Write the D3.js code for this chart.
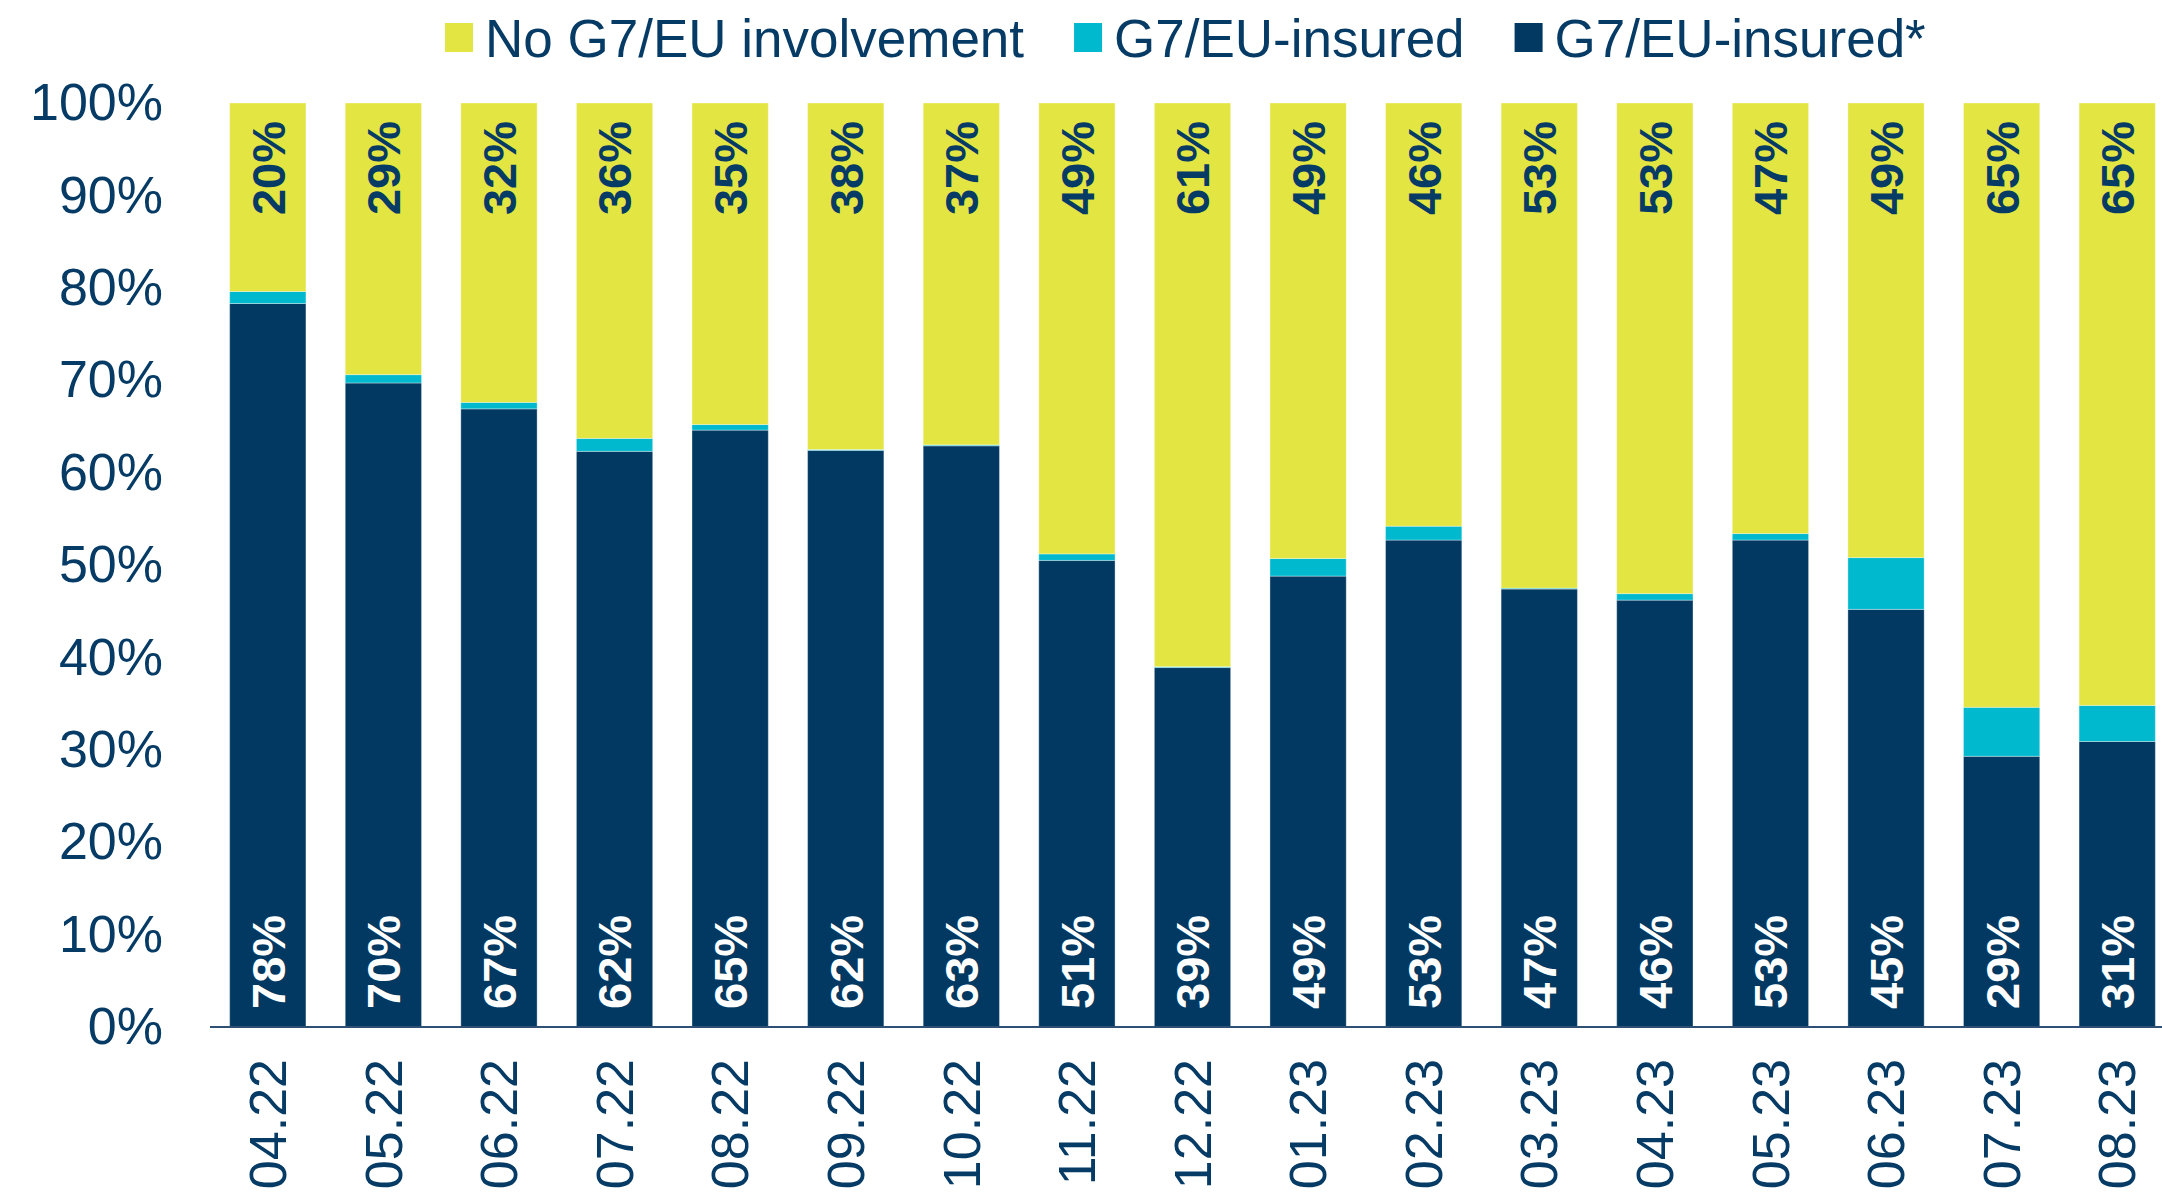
<!DOCTYPE html>
<html>
<head>
<meta charset="utf-8">
<script src="https://cdn.jsdelivr.net/npm/d3@7"></script>
<style>
  body { margin: 0; background: #fff; }
  text { font-family: Arial, "Liberation Sans", sans-serif; }
</style>
</head>
<body>
<script>
// Data (share of shipments, %)
var months = ["04.22", "05.22", "06.22", "07.22", "08.22", "09.22", "10.22", "11.22", "12.22",
  "01.23", "02.23", "03.23", "04.23", "05.23", "06.23", "07.23", "08.23"];
var insuredStar = [78.3, 69.7, 66.9, 62.3, 64.6, 62.4, 62.9, 50.5, 38.9, 48.8, 52.7, 47.4, 46.2, 52.7, 45.2, 29.3, 30.9];
var insured = [1.3, 0.9, 0.7, 1.4, 0.6, 0.1, 0.1, 0.7, 0.1, 1.9, 1.5, 0.1, 0.7, 0.7, 5.6, 5.3, 3.9];
var noInvolvement = [20.4, 29.4, 32.4, 36.3, 34.8, 37.5, 37.0, 48.8, 61.0, 49.3, 45.8, 52.5, 53.1, 46.6, 49.2, 65.4, 65.2];
var yTicks = [0, 10, 20, 30, 40, 50, 60, 70, 80, 90, 100];

var seriesNames = ["G7/EU-insured*", "G7/EU-insured", "No G7/EU involvement"];
var legendOrder = ["No G7/EU involvement", "G7/EU-insured", "G7/EU-insured*"];
var colors = {
  "G7/EU-insured*": "#023962",
  "G7/EU-insured": "#00B9CE",
  "No G7/EU involvement": "#E3E542"
};
var navy = "#063B66";

var svgWidth = 2162;
var svgHeight = 1195;

var svg = d3.select("body")
  .append("svg")
  .attr("width", svgWidth)
  .attr("height", svgHeight);

// build rows for the stack
var rows = months.map(function(m, i) {
  return {
    month: m,
    "G7/EU-insured*": insuredStar[i],
    "G7/EU-insured": insured[i],
    "No G7/EU involvement": noInvolvement[i]
  };
});

var stack = d3.stack().keys(seriesNames);
var layers = stack(rows);

// Scales
var xScale = d3.scaleBand()
  .domain(months)
  .range([210, 2175])
  .paddingInner(0.34)
  .paddingOuter(0.17);

var yScale = d3.scaleLinear()
  .domain([0, 100])
  .range([1027, 103]);

// Bars
svg.append("g")
  .selectAll("g")
  .data(layers)
  .enter()
  .append("g")
  .attr("fill", d => colors[d.key])
  .selectAll("rect")
  .data(d => d)
  .enter()
  .append("rect")
  .attr("x", d => xScale(d.data.month))
  .attr("y", d => yScale(d[1]))
  .attr("width", xScale.bandwidth())
  .attr("height", d => yScale(d[0]) - yScale(d[1]))
  .attr("stroke", "#ffffff")
  .attr("stroke-opacity", 0.35)
  .attr("stroke-width", 1);

// Y axis (labels only)
var leftAxis = d3.axisLeft(yScale)
  .tickValues(yTicks)
  .tickFormat(d => d + "%")
  .tickSize(0)
  .tickPadding(0);

var yAxisG = svg.append("g")
  .attr("transform", "translate(163, 0)")
  .call(leftAxis);
yAxisG.select(".domain").remove();
yAxisG.selectAll("text")
  .attr("fill", navy)
  .style("font-size", "52px")
  .style("font-family", "Arial, 'Liberation Sans', sans-serif");

// X axis line
svg.append("line")
  .attr("x1", 210)
  .attr("x2", svgWidth)
  .attr("y1", yScale(0))
  .attr("y2", yScale(0))
  .attr("stroke", "#2d5074")
  .attr("stroke-width", 2);

// X labels, rotated
svg.append("g")
  .selectAll("text")
  .data(months)
  .enter()
  .append("text")
  .attr("transform", d => `translate(${xScale(d) + xScale.bandwidth() / 2}, 1059) rotate(-90)`)
  .attr("text-anchor", "end")
  .attr("dy", "0.35em")
  .attr("fill", navy)
  .style("font-size", "52px")
  .text(d => d);

// Value labels: bottom series (white) and top series (navy)
var bottomLayer = layers[0];
var topLayer = layers[2];

svg.append("g")
  .selectAll("text")
  .data(bottomLayer)
  .enter()
  .append("text")
  .attr("transform", d => `translate(${xScale(d.data.month) + xScale.bandwidth() / 2}, ${yScale(0) - 18}) rotate(-90)`)
  .attr("text-anchor", "start")
  .attr("dy", "0.36em")
  .attr("fill", "#ffffff")
  .style("font-size", "47px")
  .style("font-weight", "bold")
  .text(d => Math.round(d[1] - d[0]) + "%");

svg.append("g")
  .selectAll("text")
  .data(topLayer)
  .enter()
  .append("text")
  .attr("transform", d => `translate(${xScale(d.data.month) + xScale.bandwidth() / 2}, ${yScale(100) + 18}) rotate(-90)`)
  .attr("text-anchor", "end")
  .attr("dy", "0.36em")
  .attr("fill", navy)
  .style("font-size", "47px")
  .style("font-weight", "bold")
  .text(d => Math.round(d[1] - d[0]) + "%");

// Legend
var legend = svg.append("g");
var cursor = 445;
legendOrder.forEach(function(name) {
  legend.append("rect")
    .attr("x", cursor)
    .attr("y", 23)
    .attr("width", 28)
    .attr("height", 29)
    .attr("fill", colors[name]);
  var t = legend.append("text")
    .attr("x", cursor + 40)
    .attr("y", 57)
    .attr("fill", navy)
    .style("font-size", "53px")
    .text(name);
  cursor += 40 + t.node().getComputedTextLength() + 50;
});
</script>
</body>
</html>
